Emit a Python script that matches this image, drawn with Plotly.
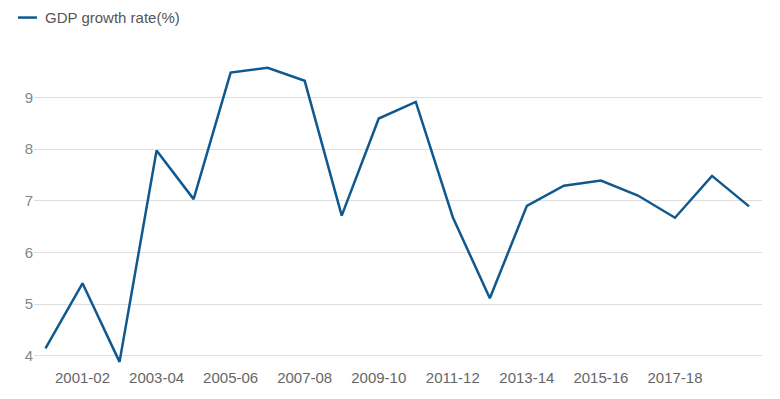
import plotly.graph_objects as go

years = ["2000-01", "2001-02", "2002-03", "2003-04", "2004-05", "2005-06", "2006-07",
         "2007-08", "2008-09", "2009-10", "2010-11", "2011-12", "2012-13", "2013-14",
         "2014-15", "2015-16", "2016-17", "2017-18", "2018-19", "2019-20"]
gdp_growth = [4.14, 5.40, 3.88, 7.97, 7.03, 9.48, 9.57, 9.32, 6.71, 8.59,
              8.91, 6.68, 5.11, 6.90, 7.29, 7.39, 7.10, 6.67, 7.48, 6.89]
x_tick_labels = ["2001-02", "2003-04", "2005-06", "2007-08", "2009-10",
                 "2011-12", "2013-14", "2015-16", "2017-18"]
y_ticks = [4, 5, 6, 7, 8, 9]
series_name = "GDP growth rate(%)"

LINE = "#10598e"
FONT = "Liberation Sans, Arial, sans-serif"

fig = go.Figure()
fig.add_trace(go.Scatter(x=list(range(len(years))), y=gdp_growth, mode="lines",
                         name=series_name, line=dict(color=LINE, width=2.5),
                         showlegend=False))

tickvals = [years.index(t) for t in x_tick_labels]

fig.update_layout(
    width=780, height=399,
    margin=dict(l=26, r=26, t=48, b=41, autoexpand=False),
    paper_bgcolor="white", plot_bgcolor="white",
    font=dict(family=FONT, size=15, color="#666666"),
    xaxis=dict(range=[-0.31, 19.35], tickmode="array", tickvals=tickvals,
               ticktext=x_tick_labels, showgrid=False, zeroline=False,
               showline=False, ticks="", ticklen=0, ticklabelstandoff=1,
               tickfont=dict(size=15, color="#666666")),
    yaxis=dict(range=[3.8, 9.8], tickmode="array", tickvals=y_ticks,
               showgrid=True, gridcolor="#dedede", gridwidth=1,
               zeroline=False, showline=False, ticks="", ticklabelstandoff=0,
               tickfont=dict(size=15, color="#858585")),
    shapes=[dict(type="line", xref="paper", yref="paper",
                 x0=-0.022, x1=0.0041, y0=1.124, y1=1.124,
                 line=dict(color=LINE, width=2.5))],
    annotations=[dict(text=series_name, xref="paper", yref="paper",
                      x=0.0124, y=1.124, xanchor="left", yanchor="middle",
                      showarrow=False, font=dict(size=15, color="#555555"))],
)

fig.write_html("out.html")
